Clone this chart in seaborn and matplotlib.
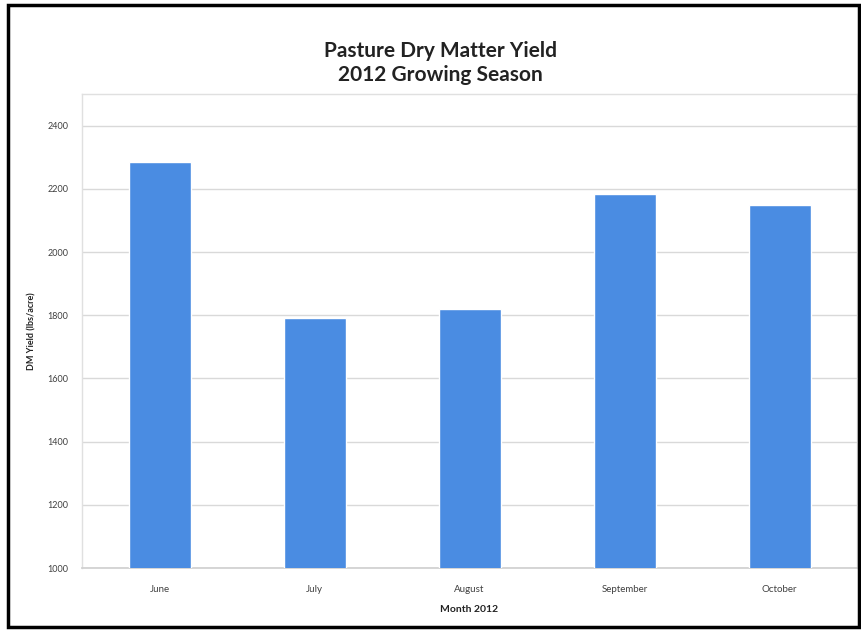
import matplotlib
matplotlib.use("Agg")
import matplotlib.pyplot as plt
import seaborn as sns
import pandas as pd
from matplotlib.patches import Rectangle

months = ["June", "July", "August", "September", "October"]
yields = [2285, 1790, 1820, 2185, 2150]
yticks = [1000, 1200, 1400, 1600, 1800, 2000, 2200, 2400]

df = pd.DataFrame({"Month": months, "Yield": yields})

sns.set_theme(style="white")
plt.rcParams['font.family'] = ['Lato', 'DejaVu Sans']

fig = plt.figure(figsize=(8.61, 6.31), dpi=100)
ax = fig.add_axes([82/861, 1-568/631, (857-82)/861, (568-94)/631])

sns.barplot(data=df, x="Month", y="Yield", color="#4A8CE2", width=0.4,
            saturation=1, ax=ax, zorder=3)

ax.set_ylim(1000, 2500)
ax.set_yticks(yticks)
ax.set_yticklabels([str(t) for t in yticks], fontsize=6.5, color="#404040")
ax.set_xlim(-0.5, 4.5)
ax.tick_params(axis="x", labelsize=7, colors="#404040", length=0, pad=12)
ax.tick_params(axis="y", length=0, pad=10)
ax.yaxis.grid(True, color="#d9d9d9", linewidth=1, zorder=0)
ax.set_axisbelow(True)
for s in ["left", "top", "right"]:
    ax.spines[s].set_color("#e0e0e0")
    ax.spines[s].set_linewidth(1)
ax.spines["bottom"].set_color("#d0d0d0")
ax.set_xlabel("Month 2012", fontsize=7.5, fontweight="bold", color="#222222", labelpad=8)
ax.set_ylabel("DM Yield (lbs/acre)", fontsize=6.5, fontweight="bold", color="#222222", labelpad=8)

fig.text(440/861, 1-63/631, "Pasture Dry Matter Yield\n2012 Growing Season",
         ha="center", va="center", fontsize=15, fontweight="bold",
         color="#222222", linespacing=1.25)

fig.patches.append(Rectangle((8/861, 4/631), (859-8)/861, (626-4)/631,
                             transform=fig.transFigure, fill=False,
                             edgecolor="black", linewidth=2.5))

fig.savefig("out.png", dpi=100)
